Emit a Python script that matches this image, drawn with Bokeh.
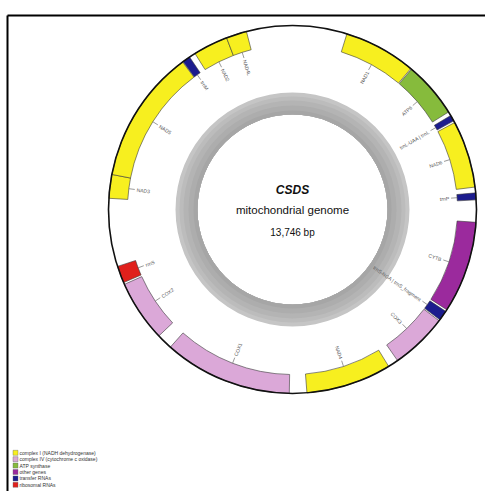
import numpy as np
from bokeh.plotting import figure
from bokeh.models import ColumnDataSource
from bokeh.embed import file_html
from bokeh.resources import INLINE
from bokeh.core.properties import value

# ---------------- data ----------------
genome_name = "CSDS"
genome_kind = "mitochondrial genome"
genome_length = 13746

gene_names = ["NAD1", "ATP6", "trnL-UAA | trnL", "NAD6", "trnP", "CYTB",
              "trnS-NGA | trnS_fragment", "COX3", "NAD4", "COX1", "COX2",
              "rrnS", "NAD3", "NAD5", "trnM", "NAD2", "NAD4L"]
gene_start = [657, 1539, 2264, 2360, 3238, 3589, 4720, 4857, 5670, 6911,
              8652, 9416, 10443, 10729, 12352, 12524, 12944]
gene_end = [1527, 2215, 2337, 3169, 3322, 4697, 4842, 5544, 6701, 8461,
            9393, 9622, 10729, 12345, 12447, 12944, 13192]
gene_group = ["complex I", "ATP synthase", "tRNA", "complex I", "tRNA",
              "other", "tRNA", "complex IV", "complex I", "complex IV",
              "complex IV", "rRNA", "complex I", "complex I", "tRNA",
              "complex I", "complex I"]

legend_groups = ["complex I", "complex IV", "ATP synthase", "other", "tRNA", "rRNA"]
legend_labels = ["complex I (NADH dehydrogenase)",
                 "complex IV (cytochrome c oxidase)",
                 "ATP synthase", "other genes", "transfer RNAs",
                 "ribosomal RNAs"]
group_colors = {"complex I": "#f7ef1f", "complex IV": "#dba8d8",
                "ATP synthase": "#86bb3c", "other": "#9b2a9d",
                "tRNA": "#1c1c8e", "rRNA": "#e0201c"}

# ---------------- layout ----------------
W, H = 485, 491
cx, cy = 292, -209
R_OUT, R_IN = 184, 165
GC_OUT, GC_IN = 117, 95

p = figure(width=W, height=H, x_range=(0, W), y_range=(-H, 0),
           output_backend="svg", toolbar_location=None, min_border=0)
p.axis.visible = False
p.grid.visible = False
p.outline_line_color = None
p.background_fill_color = "white"

# frame (top and left edges visible)
p.segment(x0=[7, 7], y0=[-15, -15], x1=[490, 7], y1=[-15, -495],
          line_color="black", line_width=2)

# GC content ring: overlapping annuli (outer lighter, inner darker), no seams
ring_outer = [GC_OUT, GC_IN + 18, GC_IN + 14, GC_IN + 9, GC_IN + 4]
ring_cols = ["#c5c5c5", "#bcbcbc", "#b4b4b4", "#adadad", "#a6a6a6"]
p.annulus(x=[cx] * 5, y=[cy] * 5, inner_radius=GC_IN,
          outer_radius=ring_outer, fill_color=ring_cols, line_color=None)

# genes
def clock_to_math(bp):
    theta = np.asarray(bp, dtype=float) / genome_length * 2 * np.pi
    return np.pi / 2 - theta

starts = np.array(gene_start)
ends = np.array(gene_end)
src = ColumnDataSource(dict(
    x=[cx] * len(gene_names), y=[cy] * len(gene_names),
    start_angle=clock_to_math(ends), end_angle=clock_to_math(starts),
    color=[group_colors[g] for g in gene_group]))
p.annular_wedge(x="x", y="y", inner_radius=R_IN, outer_radius=R_OUT,
                start_angle="start_angle", end_angle="end_angle",
                fill_color="color", line_color="#3a3a3a", line_width=0.6,
                source=src)

# outer circle
p.circle(x=[cx], y=[cy], radius=R_OUT, fill_color=None,
         line_color="#111111", line_width=1.6)

# labels with ticks
mid = (starts + ends) / 2.0
phi = clock_to_math(mid)
theta_deg = mid / genome_length * 360.0
t0, t1, tl = R_IN, R_IN - 6, R_IN - 8
p.segment(x0=cx + t0 * np.cos(phi), y0=cy + t0 * np.sin(phi),
          x1=cx + t1 * np.cos(phi), y1=cy + t1 * np.sin(phi),
          line_color="#555555", line_width=0.6)
right = theta_deg < 180
lab_ang = np.where(right, phi, phi + np.pi)
lab_align = ["right" if r else "left" for r in right]
lsrc = ColumnDataSource(dict(x=cx + tl * np.cos(phi), y=cy + tl * np.sin(phi),
                             text=gene_names, angle=lab_ang, align=lab_align))
p.text(x="x", y="y", text="text", angle="angle", text_align="align",
       text_baseline="middle", text_font_size="5px", text_color="#555555",
       text_font=value("Liberation Sans"), source=lsrc)

# centre texts
p.text(x=[cx], y=[cy + 20], text=[genome_name], text_align="center",
       text_baseline="middle", text_font_size="12px", text_font_style="bold italic",
       text_color="#111111", text_font=value("Liberation Sans"))
p.text(x=[cx], y=[cy], text=[genome_kind], text_align="center",
       text_baseline="middle", text_font_size="11.5px",
       text_color="#111111", text_font=value("Liberation Sans"))
p.text(x=[cx], y=[cy - 23], text=["{:,} bp".format(genome_length)],
       text_align="center", text_baseline="middle", text_font_size="10px",
       text_color="#111111", text_font=value("Liberation Sans"))

# legend
ly = -452.3 - 6.4 * np.arange(len(legend_groups))
p.rect(x=[15] * len(legend_groups), y=ly, width=5, height=5,
       fill_color=[group_colors[g] for g in legend_groups],
       line_color="#666666", line_width=0.4)
p.text(x=[19] * len(legend_groups), y=ly, text=legend_labels,
       text_baseline="middle", text_font_size="5px", text_color="#333333",
       text_font=value("Liberation Sans"))

open("out.html", "w").write(file_html(p, INLINE))
